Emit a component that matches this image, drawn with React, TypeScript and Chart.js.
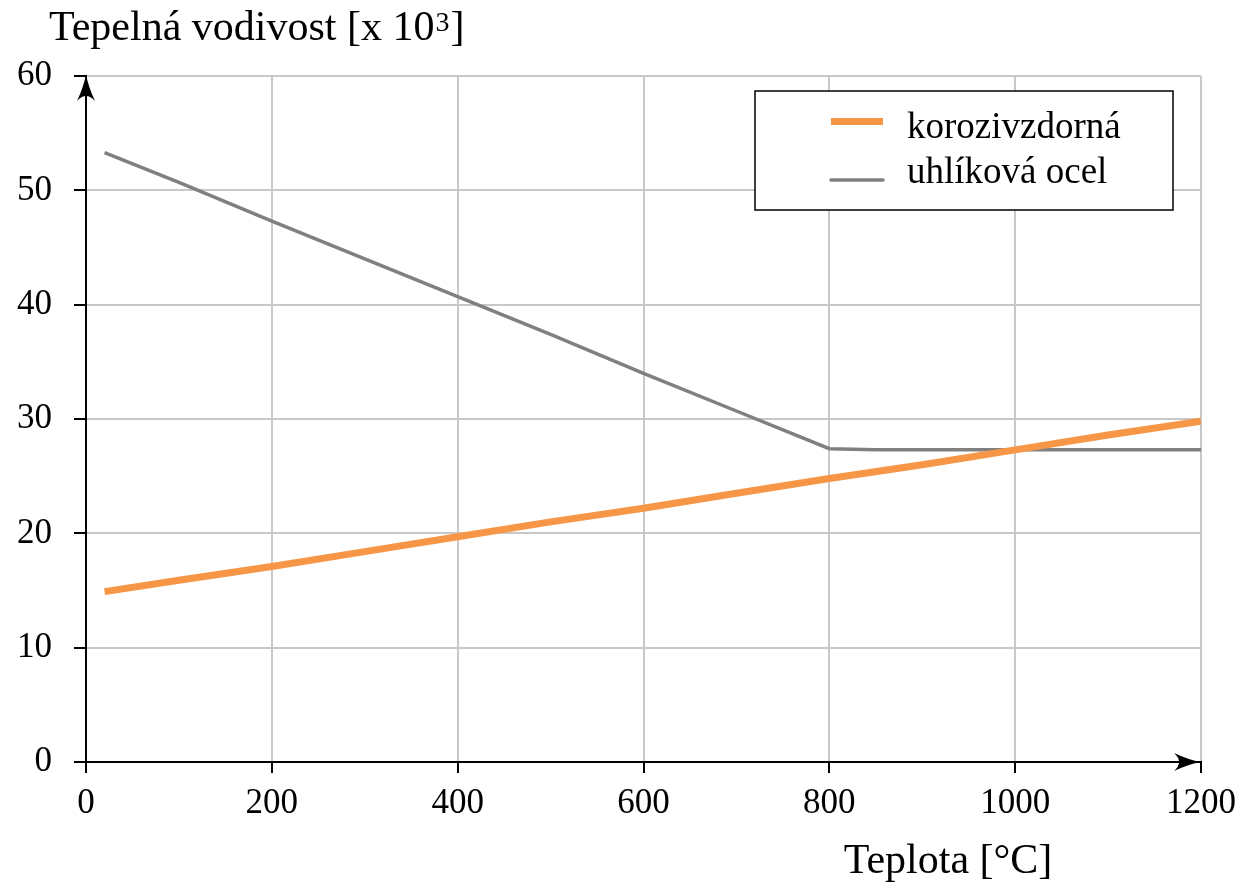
import { useEffect, useRef } from "react";
import { Chart, registerables } from "chart.js";

Chart.register(...registerables);

// Thermal conductivity of steel vs. temperature
const stainlessTemps = [20, 100, 200, 300, 400, 500, 600, 700, 800, 900, 1000, 1100, 1200];
const stainlessValues = [14.9, 15.9, 17.1, 18.4, 19.7, 21.0, 22.2, 23.5, 24.8, 26.0, 27.3, 28.6, 29.8];

const carbonTemps = [20, 100, 200, 300, 400, 500, 600, 700, 800, 850, 900, 1000, 1100, 1200];
const carbonValues = [53.3, 50.7, 47.3, 44.0, 40.7, 37.4, 34.0, 30.7, 27.4, 27.3, 27.3, 27.3, 27.3, 27.3];

const seriesLabels = ["korozivzdorná", "uhlíková ocel"];
const seriesColors = ["#F79646", "#808080"];

const xTickLabels = ["0", "200", "400", "600", "800", "1000", "1200"];
const yTickLabels = ["0", "10", "20", "30", "40", "50", "60"];

// y-axis title is drawn in three runs: base text, superscript exponent, closing bracket
const yAxisTitleParts = ["Tepelná vodivost [x 10", "3", "]"];
const xAxisTitle = "Teplota [°C]";

const FONT = "'Liberation Serif', 'Times New Roman', serif";

function drawArrow(ctx: CanvasRenderingContext2D, x: number, y: number, angle: number) {
  ctx.save();
  ctx.translate(x, y);
  ctx.rotate(angle);
  ctx.beginPath();
  ctx.moveTo(0, 0);
  ctx.quadraticCurveTo(-12, -2, -27, -9);
  ctx.quadraticCurveTo(-17, 0, -27, 9);
  ctx.quadraticCurveTo(-12, 2, 0, 0);
  ctx.closePath();
  ctx.fillStyle = "#000";
  ctx.fill();
  ctx.restore();
}

const decorations = {
  id: "decorations",
  afterDraw(chart: any) {
    const { ctx, chartArea: a } = chart;
    ctx.save();

    // axis arrows
    drawArrow(ctx, a.left, a.top - 2, -Math.PI / 2);
    drawArrow(ctx, a.right, a.bottom, 0);

    // y-axis title with raised exponent
    ctx.fillStyle = "#000";
    ctx.textBaseline = "alphabetic";
    ctx.textAlign = "left";
    let tx = 49;
    ctx.font = `42px ${FONT}`;
    ctx.fillText(yAxisTitleParts[0], tx, 40);
    tx += ctx.measureText(yAxisTitleParts[0]).width + 1;
    ctx.font = `28px ${FONT}`;
    ctx.fillText(yAxisTitleParts[1], tx, 31);
    tx += ctx.measureText(yAxisTitleParts[1]).width + 1;
    ctx.font = `42px ${FONT}`;
    ctx.fillText(yAxisTitleParts[2], tx, 40);

    // x-axis title
    ctx.textAlign = "center";
    ctx.fillText(xAxisTitle, 948, 873);

    // legend box
    const bx = a.right - 446;
    const by = a.top + 15;
    const bw = 418;
    const bh = 119;
    ctx.fillStyle = "#fff";
    ctx.fillRect(bx, by, bw, bh);
    ctx.strokeStyle = "#000";
    ctx.lineWidth = 1.5;
    ctx.strokeRect(bx, by, bw, bh);

    const rows = [
      { base: by + 47, sample: by + 30.5 },
      { base: by + 92, sample: by + 89 },
    ];
    ctx.font = `37px ${FONT}`;
    ctx.textAlign = "left";
    chart.data.datasets.forEach((ds: any, i: number) => {
      const r = rows[i];
      ctx.beginPath();
      ctx.strokeStyle = ds.borderColor;
      ctx.lineWidth = ds.borderWidth;
      ctx.lineCap = i === 0 ? "butt" : "round";
      ctx.moveTo(bx + 76, r.sample);
      ctx.lineTo(bx + 128, r.sample);
      ctx.stroke();
      ctx.fillStyle = "#000";
      ctx.fillText(ds.label, bx + 152, r.base);
    });

    ctx.restore();
  },
};

export default function App() {
  const canvasRef = useRef<HTMLCanvasElement | null>(null);

  useEffect(() => {
    const canvas = canvasRef.current;
    if (!canvas) return;

    const tickFont = { family: FONT, size: 35 };

    const chart = new Chart(canvas, {
      type: "line",
      data: {
        datasets: [
          {
            label: seriesLabels[0],
            data: stainlessTemps.map((t, i) => ({ x: t, y: stainlessValues[i] })),
            borderColor: seriesColors[0],
            backgroundColor: seriesColors[0],
            borderWidth: 7,
            pointRadius: 0,
            tension: 0,
          },
          {
            label: seriesLabels[1],
            data: carbonTemps.map((t, i) => ({ x: t, y: carbonValues[i] })),
            borderColor: seriesColors[1],
            backgroundColor: seriesColors[1],
            borderWidth: 3.5,
            pointRadius: 0,
            tension: 0,
          },
        ],
      },
      options: {
        responsive: false,
        animation: false,
        layout: { padding: { left: 0, top: 76, right: 42, bottom: 0 } },
        plugins: {
          legend: { display: false },
          tooltip: { enabled: false },
        },
        scales: {
          x: {
            type: "linear",
            min: 0,
            max: 1200,
            afterFit: (s: any) => {
              s.height = 124;
              s.paddingLeft = 0;
              s.paddingRight = 0;
            },
            ticks: {
              stepSize: 200,
              maxRotation: 0,
              padding: 10,
              color: "#000",
              font: tickFont,
              callback: (_v: any, i: number) => xTickLabels[i],
            },
            grid: {
              color: "#c8c8c8",
              lineWidth: 2,
              tickColor: "#000",
              tickLength: 11,
              tickWidth: 2,
            },
            border: { color: "#000", width: 2 },
          },
          y: {
            type: "linear",
            min: 0,
            max: 60,
            afterFit: (s: any) => {
              s.width = 86;
              s.paddingTop = 0;
              s.paddingBottom = 0;
            },
            ticks: {
              stepSize: 10,
              padding: 22,
              color: "#000",
              font: tickFont,
              callback: (_v: any, i: number) => yTickLabels[i],
            },
            grid: {
              color: "#c8c8c8",
              lineWidth: 2,
              tickColor: "#000",
              tickLength: 12,
              tickWidth: 2,
            },
            border: { color: "#000", width: 2 },
          },
        },
      },
      plugins: [decorations],
    });

    return () => chart.destroy();
  }, []);

  return (
    <div style={{ position: "absolute", left: 0, top: 0, width: 1243, height: 886, background: "#fff" }}>
      <canvas ref={canvasRef} width={1243} height={886} />
    </div>
  );
}
